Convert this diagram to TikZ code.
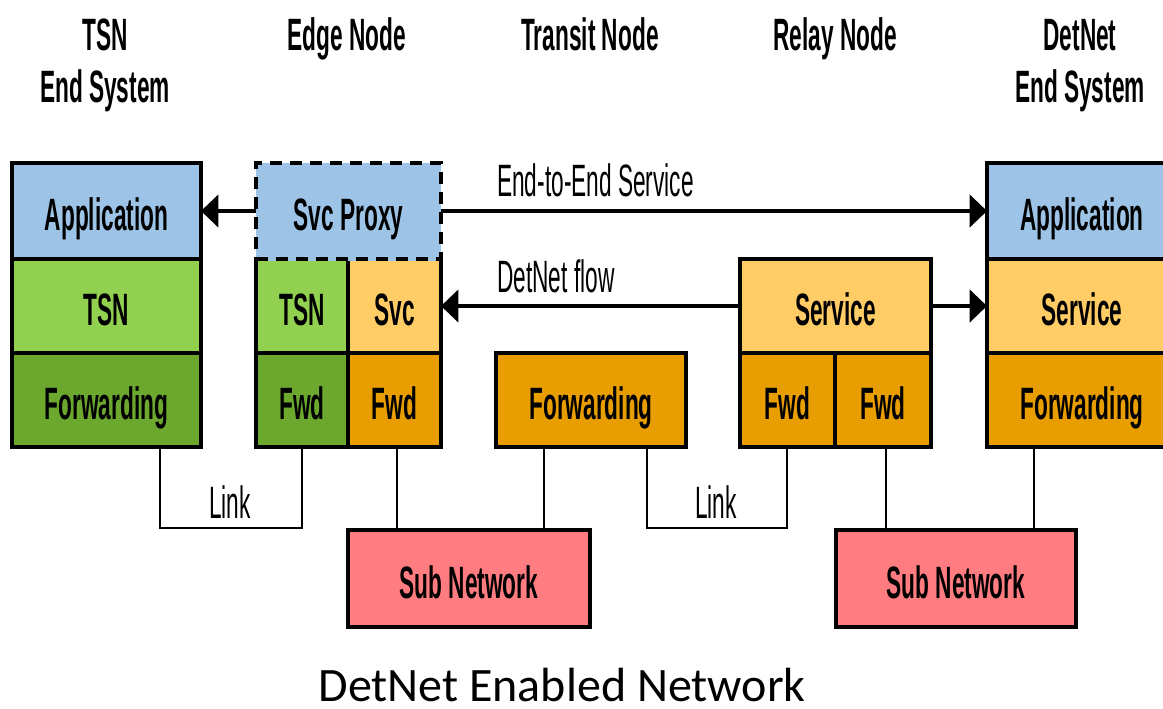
\documentclass[tikz,border=0pt]{standalone}
\usepackage{fontspec}
\usetikzlibrary{arrows.meta}
\newfontfamily\narrowsans[FakeStretch=0.5]{Liberation Sans}
\newfontfamily\captionsans{Carlito}

\definecolor{appblue}{HTML}{9DC3E6}
\definecolor{tsngreen}{HTML}{92D050}
\definecolor{fwdgreen}{RGB}{108,168,46}
\definecolor{svcyellow}{HTML}{FFCC66}
\definecolor{fwdorange}{HTML}{E89D00}
\definecolor{subpink}{HTML}{FF7C80}

% \stackbox{name}{x1}{y1}{x2}{y2}{style}{label}: one layer box between two corners (px units)
\newcommand\stackbox[7]{%
  \pgfmathsetmacro\sbw{(#4-#2)*0.75}%
  \pgfmathsetmacro\sbh{(#5-#3)*0.75}%
  \node[#6, minimum width=\sbw pt, minimum height=\sbh pt] (#1)
    at ({(#2+#4)/2},{(#3+#5)/2}) {#7};}

\begin{document}
\begin{tikzpicture}[x=0.75pt,y=-0.75pt,
  boxbase/.style={line width=3pt, inner sep=0pt, outer sep=0pt,
    text height=29.5pt, text depth=0pt,
    font=\narrowsans\bfseries\fontsize{34}{38}\selectfont},
  layerbox/.style={boxbase, draw},
  proxybox/.style={boxbase, draw, dash pattern=on 9pt off 6pt},
  heading/.style={font=\narrowsans\bfseries\fontsize{34}{38}\selectfont, anchor=base, inner sep=0pt},
  plainlabel/.style={font=\narrowsans\fontsize{34}{38}\selectfont, inner sep=0pt},
  arr/.style={line width=3.4pt, -{Triangle[length=13pt,width=24pt]}},
  wire/.style={line width=2pt},
]
\useasboundingbox (0,0) rectangle (1163,708);
\clip (0,0) rectangle (1163,708);

% column headings
\node[heading] (h1a) at (105,50) {TSN};
\node[heading] (h1b) at (105,102) {End System};
\node[heading] (h2) at (347,50) {Edge Node};
\node[heading] (h3) at (590,50) {Transit Node};
\node[heading] (h4) at (835,50) {Relay Node};
\node[heading] (h5a) at (1080,50) {DetNet};
\node[heading] (h5b) at (1080,102) {End System};

% TSN end system
\stackbox{tapp}{12}{163}{201}{259}{layerbox, fill=appblue}{Application}
\stackbox{ttsn}{12}{259}{201}{353}{layerbox, fill=tsngreen}{TSN}
\stackbox{tfwd}{12}{353}{201}{447}{layerbox, fill=fwdgreen}{Forwarding}

% edge node
\stackbox{etsn}{256}{259}{348}{353}{layerbox, fill=tsngreen}{TSN}
\stackbox{esvc}{348}{259}{441}{353}{layerbox, fill=svcyellow}{Svc}
\stackbox{egfwd}{256}{353}{348}{447}{layerbox, fill=fwdgreen}{Fwd}
\stackbox{eofwd}{348}{353}{441}{447}{layerbox, fill=fwdorange}{Fwd}
\stackbox{proxy}{256}{163}{441}{259}{proxybox, fill=appblue}{Svc Proxy}
% the proxy keeps a dashed lower edge over the layers below it
\draw[line width=3pt, appblue] (proxy.south west) -- (proxy.south east);
\draw[line width=3pt, dash pattern=on 9pt off 6pt] (proxy.south west) -- (proxy.south east);

% transit node
\stackbox{xfwd}{496}{353}{686}{447}{layerbox, fill=fwdorange}{Forwarding}

% relay node
\stackbox{rsvc}{740}{259}{931}{353}{layerbox, fill=svcyellow}{Service}
\stackbox{rfwda}{740}{353}{835}{447}{layerbox, fill=fwdorange}{Fwd}
\stackbox{rfwdb}{835}{353}{931}{447}{layerbox, fill=fwdorange}{Fwd}

% DetNet end system (runs past the right edge)
\stackbox{dapp}{987}{163}{1177}{259}{layerbox, fill=appblue}{Application}
\stackbox{dsvc}{987}{259}{1177}{353}{layerbox, fill=svcyellow}{Service}
\stackbox{dfwd}{987}{353}{1177}{447}{layerbox, fill=fwdorange}{Forwarding}

% sub networks
\stackbox{sub1}{348}{530}{590}{627}{layerbox, fill=subpink}{Sub Network}
\stackbox{sub2}{836}{530}{1076}{627}{layerbox, fill=subpink}{Sub Network}

% service arrows
\draw[arr] (proxy.west) -- (tapp.east);
\draw[arr] (proxy.east) -- (dapp.west);
\draw[arr] (rsvc.west) -- (rsvc.west -| esvc.east);
\draw[arr] (rsvc.east) -- (dsvc.west);
\node[plainlabel, anchor=base west] (e2e) at (497,196) {End-to-End Service};
\node[plainlabel, anchor=base west] (flow) at (497,292) {DetNet flow};

% links
\coordinate (la) at (160,528);
\coordinate (lb) at (302,528);
\coordinate (lc) at (647,528);
\coordinate (ld) at (787,528);
\draw[wire] (tfwd.south -| la) -- (la) -- (lb) -- (egfwd.south -| lb);
\draw[wire] (xfwd.south -| lc) -- (lc) -- (ld) -- (rfwda.south -| ld);
\node[plainlabel, anchor=base] (link1) at (230,518) {Link};
\node[plainlabel, anchor=base] (link2) at (716,518) {Link};

% attachments to the sub networks
\coordinate (sa) at (397,530);
\coordinate (sb) at (544,530);
\coordinate (sc) at (886,530);
\coordinate (sd) at (1034,530);
\draw[wire] (eofwd.south -| sa) -- (sub1.north -| sa);
\draw[wire] (xfwd.south -| sb) -- (sub1.north -| sb);
\draw[wire] (rfwdb.south -| sc) -- (sub2.north -| sc);
\draw[wire] (dfwd.south -| sd) -- (sub2.north -| sd);

% caption
\node[font=\captionsans\fontsize{36}{42}\selectfont, anchor=base, inner sep=0pt, text depth=0pt] (cap) at (562,701) {DetNet Enabled Network};
\end{tikzpicture}
\end{document}
